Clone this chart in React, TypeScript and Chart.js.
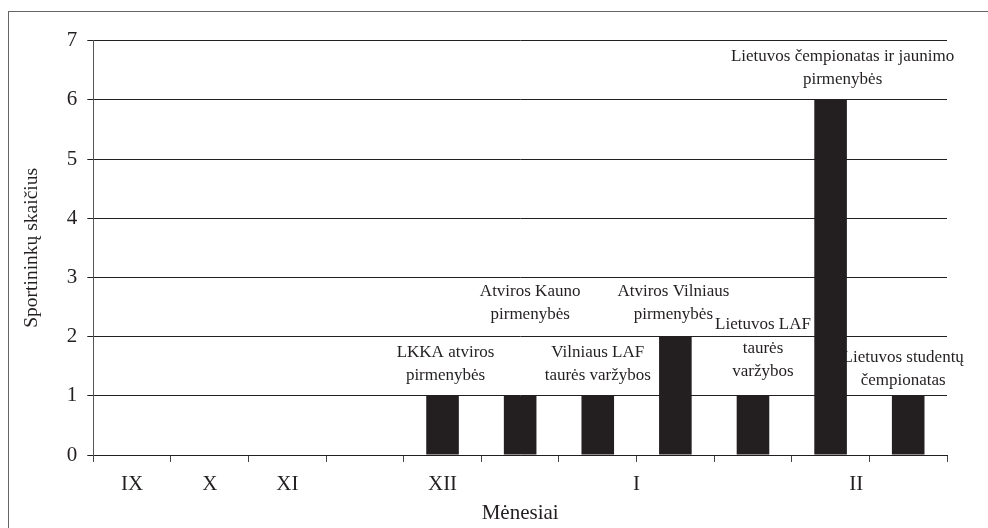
import React, { useEffect, useRef } from "react";
import { Chart, registerables } from "chart.js";

Chart.register(...registerables);

// ---- data ----
const slotNames = [
  "IX", "X", "XI", "XI-XII", "XII", "XII-I", "I-a", "I-b", "I-c", "II-a", "II-b",
];
const athleteCounts = [0, 0, 0, 0, 1, 1, 1, 2, 1, 6, 1];
const competitionLines: string[][] = [
  [],
  [],
  [],
  [],
  ["LKKA atviros", "pirmenybės"],
  ["Atviros Kauno", "pirmenybės"],
  ["Vilniaus LAF", "taurės varžybos"],
  ["Atviros Vilniaus", "pirmenybės"],
  ["Lietuvos LAF", "taurės", "varžybos"],
  ["Lietuvos čempionatas ir jaunimo", "pirmenybės"],
  ["Lietuvos studentų", "čempionatas"],
];
const monthLabels = ["IX", "X", "XI", "XII", "I", "II"];
const monthTickPositions = [0.5, 1.5, 2.5, 4.5, 7, 9.83];
const yAxisTitle = "Sportininkų skaičius";
const xAxisTitle = "Mėnesiai";

// ---- layout / style (not data) ----
const noteNudge: [number, number][] = [
  [0, 0], [0, 0], [0, 0], [0, 0],
  [3, 0], [10, 61], [0, 0], [-2, 2], [10, 4], [12, 0], [-5, -5],
];
const SERIF = "'Liberation Serif', 'Times New Roman', serif";
const INK = "#231f20";

const notesPlugin = {
  id: "barNotes",
  afterDatasetsDraw(chart: any) {
    const meta = chart.getDatasetMeta(0);
    const ctx = chart.ctx;
    ctx.save();
    ctx.font = `17px ${SERIF}`;
    ctx.fillStyle = INK;
    ctx.textAlign = "center";
    ctx.textBaseline = "middle";
    const lh = 23.5;
    meta.data.forEach((bar: any, i: number) => {
      const lines = competitionLines[i];
      if (!lines || !lines.length) return;
      const [dx, dy] = noteNudge[i];
      const baseY = bar.y - 20 - dy;
      lines.forEach((ln, k) => {
        ctx.fillText(ln, bar.x + dx, baseY - (lines.length - 1 - k) * lh);
      });
    });
    ctx.restore();
  },
};

export default function App() {
  const ref = useRef<HTMLCanvasElement | null>(null);

  useEffect(() => {
    if (!ref.current) return;
    const chart = new Chart(ref.current, {
      type: "bar",
      data: {
        labels: slotNames,
        datasets: [
          {
            data: athleteCounts,
            backgroundColor: INK,
            borderWidth: 0,
            categoryPercentage: 1,
            barPercentage: 0.42,
          },
        ],
      },
      options: {
        animation: false,
        responsive: false,
        maintainAspectRatio: false,
        layout: { padding: { top: 28.7, right: 41, left: 0, bottom: 0 } },
        plugins: {
          legend: { display: false },
          tooltip: { enabled: false },
        },
        scales: {
          x: {
            type: "category",
            position: "bottom",
            weight: 0,
            offset: true,
            grid: {
              display: true,
              drawOnChartArea: false,
              drawTicks: true,
              tickLength: 7,
              offset: true,
              color: "#444",
              lineWidth: 1,
            },
            border: { display: true, color: INK, width: 1 },
            ticks: { display: false },
            afterFit: (s: any) => {
              s.height = 7;
            },
          },
          x2: {
            type: "linear",
            position: "bottom",
            weight: 1,
            min: 0,
            max: 11,
            offset: false,
            grid: { display: false, drawTicks: false, offset: false },
            border: { display: false },
            afterBuildTicks: (s: any) => {
              s.ticks = monthTickPositions.map((v) => ({ value: v }));
            },
            ticks: {
              autoSkip: false,
              maxRotation: 0,
              padding: 10,
              color: INK,
              font: { family: SERIF, size: 21 },
              callback: (_v: any, i: number) => monthLabels[i],
            },
            title: {
              display: true,
              text: xAxisTitle,
              color: INK,
              font: { family: SERIF, size: 21 },
              padding: { top: 0, bottom: 2 },
            },
            afterFit: (s: any) => {
              s.height = 66;
            },
          },
          y: {
            min: 0,
            max: 7,
            ticks: {
              stepSize: 1,
              padding: 10,
              color: INK,
              font: { family: SERIF, size: 21 },
            },
            grid: {
              color: INK,
              lineWidth: 1,
              tickLength: 6,
            },
            border: { display: true, color: "#555", width: 1 },
            title: {
              display: true,
              text: yAxisTitle,
              color: INK,
              font: { family: SERIF, size: 19.5 },
              padding: { top: 11.3, bottom: 0 },
            },
            afterFit: (s: any) => {
              s.width = 84.3;
            },
          },
        },
      },
      plugins: [notesPlugin],
    });
    return () => chart.destroy();
  }, []);

  return (
    <div
      style={{
        position: "fixed",
        left: 8,
        top: 11,
        width: 979,
        height: 516,
        borderLeft: "1px solid #666",
        borderTop: "1px solid #666",
        background: "#fff",
      }}
    >
      <canvas ref={ref} width={979} height={516} style={{ display: "block" }} />
    </div>
  );
}
